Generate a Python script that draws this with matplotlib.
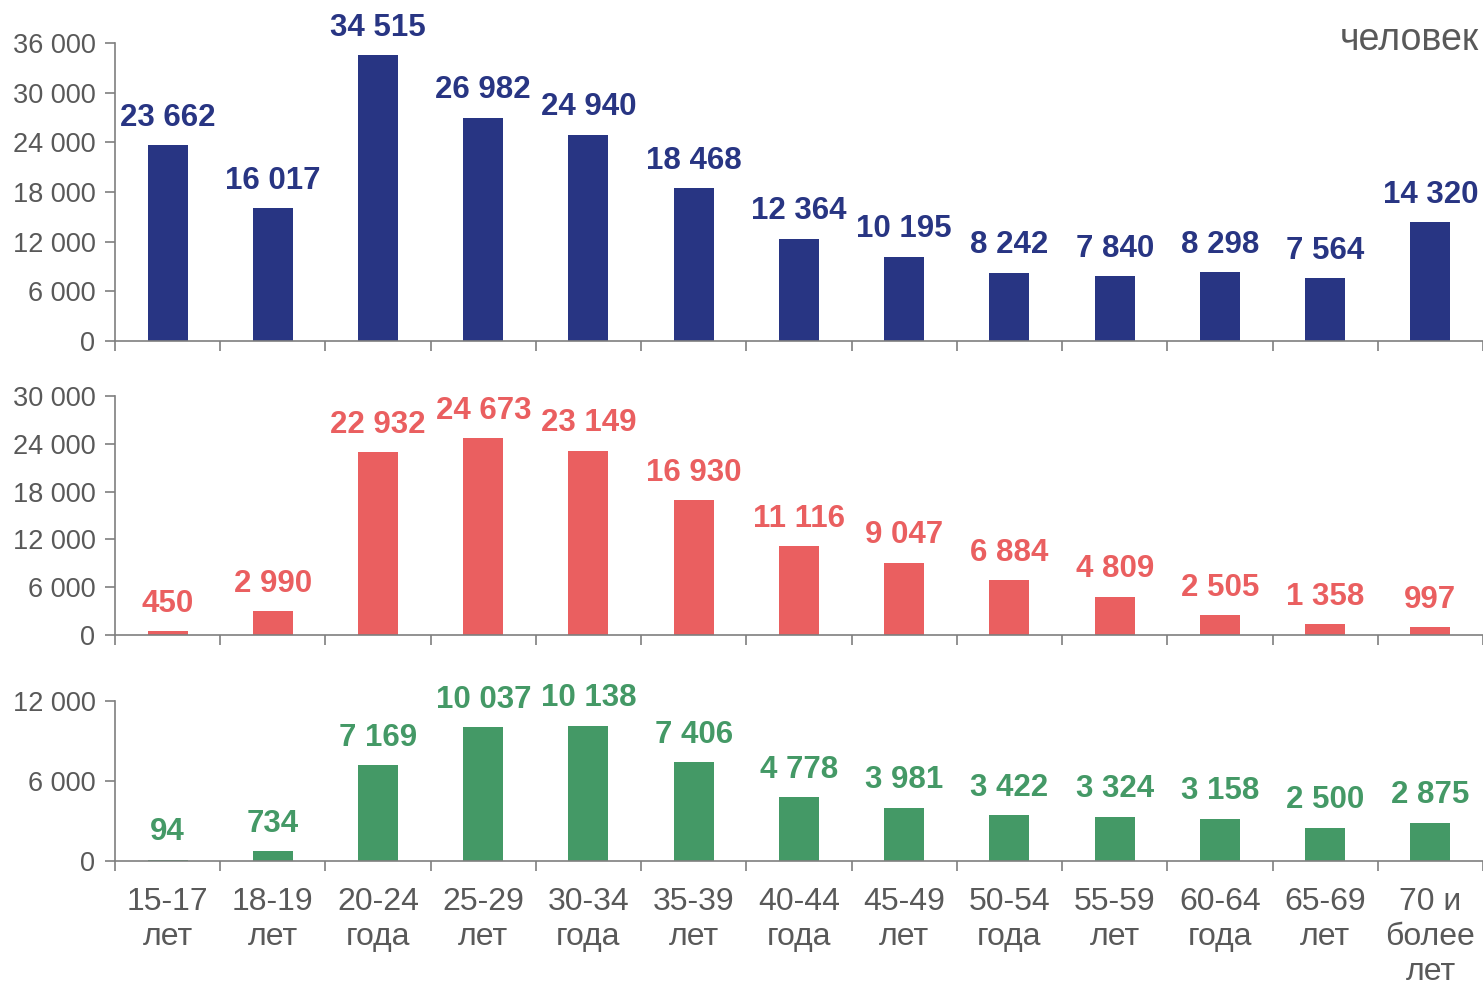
import matplotlib.pyplot as plt
import numpy as np

plt.rcParams['font.family'] = ['Liberation Sans', 'DejaVu Sans']

categories = ['15-17\nлет', '18-19\nлет', '20-24\nгода', '25-29\nлет', '30-34\nгода',
              '35-39\nлет', '40-44\nгода', '45-49\nлет', '50-54\nгода', '55-59\nлет',
              '60-64\nгода', '65-69\nлет', '70 и\nболее\nлет']
total = [23662, 16017, 34515, 26982, 24940, 18468, 12364, 10195, 8242, 7840, 8298, 7564, 14320]
women = [450, 2990, 22932, 24673, 23149, 16930, 11116, 9047, 6884, 4809, 2505, 1358, 997]
men = [94, 734, 7169, 10037, 10138, 7406, 4778, 3981, 3422, 3324, 3158, 2500, 2875]

panels = [
    (total, '#283583', 36000, [0.0775, 0.6542, 0.9225, 0.3022]),
    (women, '#EA5F60', 30000, [0.0775, 0.3560, 0.9225, 0.2424]),
    (men, '#449966', 12000, [0.0775, 0.1268, 0.9225, 0.1623]),
]

grey = '#595959'
fig = plt.figure(figsize=(14.83, 9.86), dpi=100)
x = np.arange(len(categories))

for k, (vals, col, ymax, rect) in enumerate(panels):
    ax = fig.add_axes(rect)
    ax.bar(x, vals, width=0.38, color=col)
    ax.set_xlim(-0.5, len(categories) - 0.5)
    ax.set_ylim(0, ymax)
    ax.set_yticks(np.arange(0, ymax + 1, 6000))
    ax.set_yticklabels([f'{int(v):,}'.replace(',', ' ') for v in ax.get_yticks()])
    ax.set_xticks(np.arange(-0.5, len(categories), 1.0))
    ax.set_xticklabels([])
    ax.spines['top'].set_visible(False)
    ax.spines['right'].set_visible(False)
    ax.spines['left'].set_color('#7f7f7f')
    ax.spines['bottom'].set_color('#7f7f7f')
    ax.spines['left'].set_linewidth(1.2)
    ax.spines['bottom'].set_linewidth(1.2)
    ax.tick_params(axis='y', length=7, width=1.2, color='#7f7f7f', labelsize=19.5,
                   labelcolor=grey, pad=7)
    ax.tick_params(axis='x', length=7, width=1.2, color='#7f7f7f', direction='out')
    for i, v in enumerate(vals):
        ax.annotate(f'{v:,}'.replace(',', ' '), xy=(i, v), xytext=(0, 9),
                    textcoords='offset points', ha='center', va='bottom',
                    fontsize=22.5, fontweight='bold', color=col, annotation_clip=False)
    if k == 2:
        for i, lab in enumerate(categories):
            ax.text(i, -0.16, lab, transform=ax.get_xaxis_transform(), ha='center',
                    va='top', fontsize=23, color=grey, linespacing=1.22)

fig.text(0.997, 0.959, 'человек', ha='right', va='center', fontsize=27, color=grey)

fig.savefig('out.png', dpi=100)
